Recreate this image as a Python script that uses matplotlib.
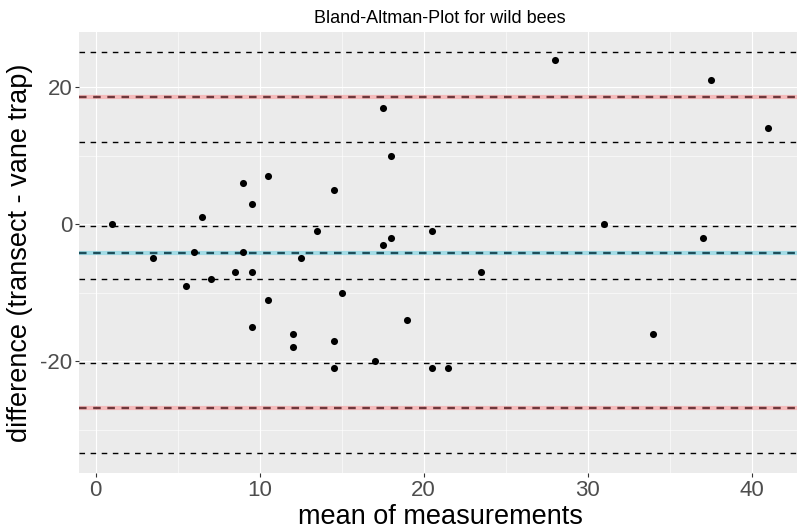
import numpy as np
import matplotlib
matplotlib.use("Agg")
import matplotlib.pyplot as plt

plt.rcParams['font.family'] = ['Liberation Sans', 'DejaVu Sans']
plt.rcParams['axes.unicode_minus'] = False

mean_vals = [1, 3.5, 5.5, 6, 6.5, 7, 8.5, 9, 9, 9.5, 9.5, 9.5, 10.5, 10.5,
             12, 12, 12.5, 13.5, 14.5, 14.5, 14.5, 15, 17, 17.5, 17.5, 18, 18,
             19, 20.5, 20.5, 21.5, 23.5, 28, 31, 34, 37, 37.5, 41]
diff_vals = [0, -5, -9, -4, 1, -8, -7, 6, -4, 3, -7, -15, 7, -11,
             -16, -18, -5, -1, 5, -17, -21, -10, -20, 17, -3, 10, -2,
             -14, -1, -21, -21, -7, 24, 0, -16, -2, 21, 14]
x_ticks = [0, 10, 20, 30, 40]
y_ticks = [-20, 0, 20]

title = "Bland-Altman-Plot for wild bees"
xlabel = "mean of measurements"
ylabel = "difference (transect - vane trap)"

# Bland-Altman statistics (bias, limits of agreement and their 95% CIs)
d = np.array(diff_vals, dtype=float)
n = len(d)
bias = d.mean()
sd = d.std(ddof=1)
loa_up = bias + 1.96 * sd
loa_lo = bias - 1.96 * sd
t = 2.026  # t quantile, 37 df
ci_bias = t * sd / np.sqrt(n)
ci_loa = t * sd * np.sqrt(3.0 / n)
ci_lines = [bias - ci_bias, bias + ci_bias,
            loa_up - ci_loa, loa_up + ci_loa,
            loa_lo - ci_loa, loa_lo + ci_loa]

W, H = 797, 529
fig = plt.figure(figsize=(W / 100, H / 100), dpi=100)
fig.patch.set_facecolor('white')

left_px, right_px, top_px, bot_px = 79.3, 800.9, 32, 473
ax = fig.add_axes([left_px / W, 1 - bot_px / H,
                   (right_px - left_px) / W, (bot_px - top_px) / H])
ax.set_facecolor('#EBEBEB')
for s in ax.spines.values():
    s.set_visible(False)

# limits like ggplot (5% expansion)
xmin, xmax = min(mean_vals), max(mean_vals)
xr = xmax - xmin
ax.set_xlim(xmin - 0.05 * xr, xmax + 0.05 * xr)
allY = list(diff_vals) + ci_lines + [loa_up, loa_lo, bias]
ymin, ymax = min(allY), max(allY)
yr = ymax - ymin
ax.set_ylim(ymin - 0.05 * yr, ymax + 0.05 * yr)

ax.set_xticks(x_ticks)
ax.set_yticks(y_ticks)
ax.set_xticks([5, 15, 25, 35], minor=True)
ax.set_yticks([-30, -10, 10], minor=True)
ax.grid(True, which='major', color='white', linewidth=0.85, zorder=0)
ax.grid(True, which='minor', color='white', linewidth=0.4, zorder=0)
ax.set_axisbelow(True)

ax.tick_params(axis='both', which='major', length=3, width=0.8, color='#333333',
               labelsize=16, labelcolor='#4D4D4D', pad=2)
ax.tick_params(axis='both', which='minor', length=0)

# CI dashed lines
for yv in ci_lines:
    ax.axhline(yv, color='black', linewidth=1.0, linestyle=(0, (4, 4)), zorder=2)

# bias and limits of agreement with coloured bands
ax.axhline(loa_up, color='#F4BABA', linewidth=3.0, zorder=2)
ax.axhline(loa_lo, color='#F4BABA', linewidth=3.0, zorder=2)
ax.axhline(bias, color='#A3DCE6', linewidth=3.0, zorder=2)
ax.axhline(loa_up, color='#6E383C', linewidth=1.7, linestyle=(0, (3.2, 2.8)), zorder=3)
ax.axhline(loa_lo, color='#6E383C', linewidth=1.7, linestyle=(0, (3.2, 2.8)), zorder=3)
ax.axhline(bias, color='#1E4F5B', linewidth=1.7, linestyle=(0, (3.2, 2.8)), zorder=3)

ax.scatter(mean_vals, diff_vals, s=26, color='black', zorder=4, linewidths=0)

ax.set_title(title, fontsize=13, pad=6.8)
ax.set_xlabel(xlabel, fontsize=19.5, labelpad=2)
ax.set_ylabel(ylabel, fontsize=19.5, labelpad=5)

fig.savefig('out.png', dpi=100)
